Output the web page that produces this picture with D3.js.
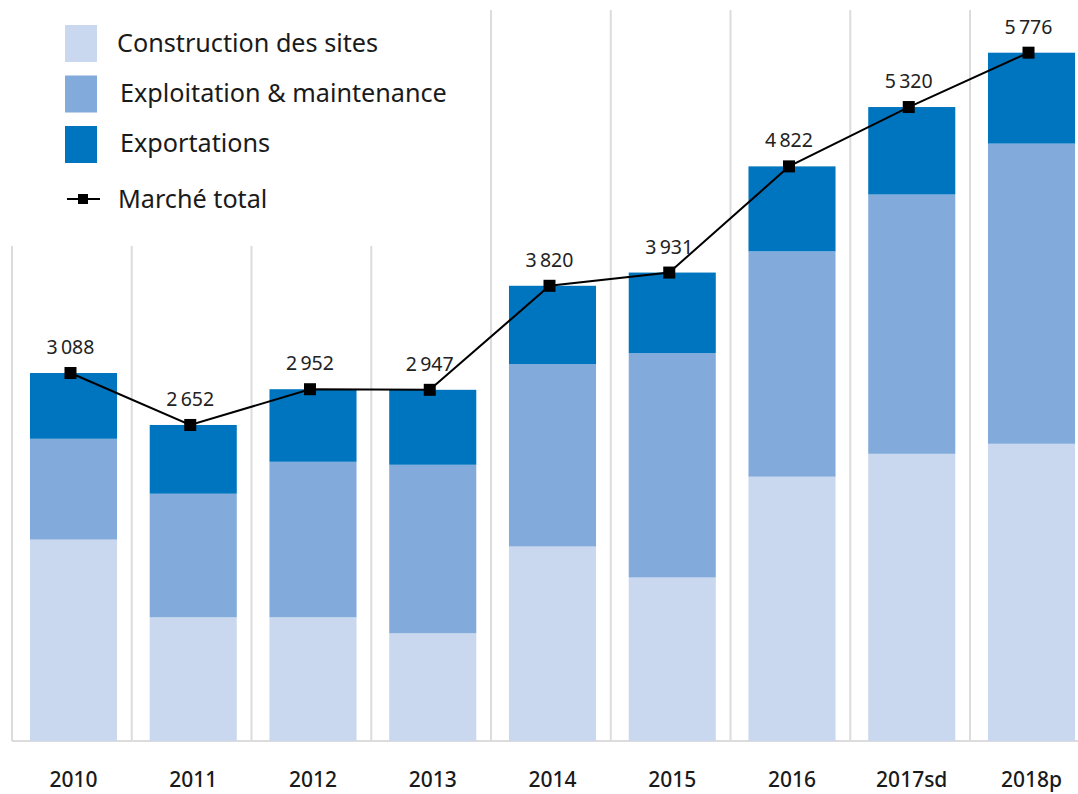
<!DOCTYPE html>
<html>
<head>
<meta charset="utf-8">
<script src="https://cdn.jsdelivr.net/npm/d3@7"></script>
<style>
  body { margin: 0; background: #fff; }
  svg { display: block; font-family: "Noto Sans", sans-serif; }
</style>
</head>
<body>
<div id="chart"></div>
<script>
// data
var years = ["2010", "2011", "2012", "2013", "2014", "2015", "2016", "2017sd", "2018p"];
var construction = [1690, 1038, 1038, 904, 1632, 1372, 2218, 2410, 2494];
var exploitation = [846, 1037, 1305, 1414, 1531, 1883, 1891, 2176, 2519];
var exportations = [552, 577, 609, 629, 657, 676, 713, 734, 763];
var total = [3088, 2652, 2952, 2947, 3820, 3931, 4822, 5320, 5776];
var seriesNames = ["Construction des sites", "Exploitation & maintenance", "Exportations"];
var seriesColors = ["#c9d8ee", "#82abdb", "#0075bf"];
var lineName = "Marché total";

var width = 1078, height = 794;

var svg = d3.select("#chart").append("svg")
  .attr("width", width)
  .attr("height", height);

var x = d3.scaleBand()
  .domain(years)
  .range([12, 1093])
  .paddingInner(0.273)
  .paddingOuter(0.15);

var y = d3.scaleLinear()
  .domain([0, 6000])
  .range([741, 26]);

// left edge of each category slot
var slotLeft = function(d) { return x(d) - x.paddingOuter() * x.step(); };

// vertical separators
svg.append("g").selectAll("line")
  .data(years)
  .enter().append("line")
    .attr("x1", function(d) { return slotLeft(d); })
    .attr("x2", function(d) { return slotLeft(d); })
    .attr("y1", 10)
    .attr("y2", 741)
    .style("stroke", "#dcdcdc")
    .style("stroke-width", 2);

// baseline
svg.append("line")
  .attr("x1", 12).attr("x2", width)
  .attr("y1", 741).attr("y2", 741)
  .style("stroke", "#dcdcdc")
  .style("stroke-width", 2);

// stacked bars
var table = years.map(function(d, i) {
  return { year: d, c: construction[i], e: exploitation[i], x: exportations[i] };
});
var stack = d3.stack().keys(["c", "e", "x"])(table);

svg.append("g").selectAll("g")
  .data(stack)
  .enter().append("g")
    .style("fill", function(d, i) { return seriesColors[i]; })
  .selectAll("rect")
  .data(function(d) { return d; })
  .enter().append("rect")
    .attr("x", function(d) { return x(d.data.year); })
    .attr("width", x.bandwidth())
    .attr("y", function(d) { return y(d[1]); })
    .attr("height", function(d) { return y(d[0]) - y(d[1]); });

// total line
var cx = function(d, i) { return x(years[i]) + x.bandwidth() / 2 - 3; };
var line = d3.line()
  .x(cx)
  .y(function(d) { return y(d); });

svg.append("path")
  .datum(total)
  .attr("d", line)
  .style("fill", "none")
  .style("stroke", "#000")
  .style("stroke-width", 2);

svg.append("g").selectAll("rect")
  .data(total)
  .enter().append("rect")
    .attr("x", function(d, i) { return cx(d, i) - 6; })
    .attr("y", function(d) { return y(d) - 6; })
    .attr("width", 12)
    .attr("height", 12)
    .style("fill", "#000");

var fmt = function(v) { return d3.format(",")(v).replace(",", "\u2009"); };

svg.append("g").selectAll("text")
  .data(total)
  .enter().append("text")
    .attr("x", function(d, i) { return cx(d, i); })
    .attr("y", function(d) { return y(d) - 19; })
    .attr("text-anchor", "middle")
    .style("font-size", "19.5px")
    .style("fill", "#222")
    .text(fmt);

// x labels
svg.append("g").selectAll("text")
  .data(years)
  .enter().append("text")
    .attr("x", function(d) { return x(d) + x.bandwidth() / 2; })
    .attr("y", 787)
    .attr("text-anchor", "middle")
    .style("font-size", "21px")
    .style("font-weight", 500)
    .style("fill", "#1a1a1a")
    .text(function(d) { return d; });

// legend
var legend = svg.append("g");
legend.append("rect")
  .attr("x", 0).attr("y", 0)
  .attr("width", 470).attr("height", 246)
  .style("fill", "#fff");

var textX = [117, 120, 120];
seriesNames.forEach(function(name, i) {
  legend.append("rect")
    .attr("x", 65).attr("y", 25 + i * 50.5)
    .attr("width", 32).attr("height", 37)
    .style("fill", seriesColors[i]);
  legend.append("text")
    .attr("x", textX[i]).attr("y", 52 + i * 50)
    .style("font-size", "25.2px")
    .style("fill", "#1a1a1a")
    .text(name);
});
legend.append("line")
  .attr("x1", 67).attr("x2", 100)
  .attr("y1", 199).attr("y2", 199)
  .style("stroke", "#000").style("stroke-width", 2);
legend.append("rect")
  .attr("x", 78).attr("y", 194)
  .attr("width", 10).attr("height", 10)
  .style("fill", "#000");
legend.append("text")
  .attr("x", 118).attr("y", 208)
  .style("font-size", "25.2px")
  .style("fill", "#1a1a1a")
  .text(lineName);
</script>
</body>
</html>
